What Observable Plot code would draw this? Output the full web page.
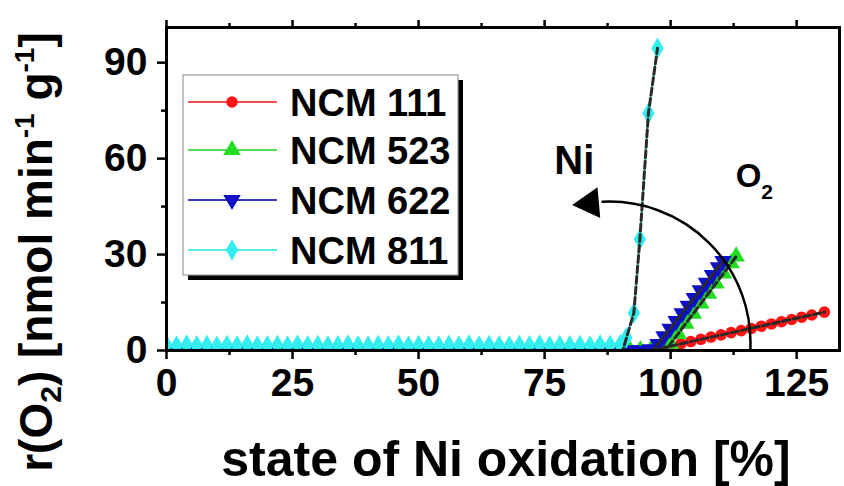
<!DOCTYPE html>
<html><head><meta charset="utf-8">
<script src="https://cdn.jsdelivr.net/npm/d3@7"></script>
<script src="https://cdn.jsdelivr.net/npm/@observablehq/plot@0.6"></script>
<style>
html,body{margin:0;padding:0;background:#fff}
</style></head><body><div id="chart"></div>
<script>
// ---------- data ----------
const seriesNames = ["NCM 111", "NCM 523", "NCM 622", "NCM 811"];
const seriesColors = ["#ff1414", "#22dd22", "#1010c8", "#33eeee"];
const legendLineColors = ["#f05050", "#55dd55", "#3838c0", "#55eeee"];
const seriesSymbols = ["circle", "triangle", "triangle", "diamond"];
const seriesRotate = [0, 0, 180, 0];

const xTicks = [0, 25, 50, 75, 100, 125];
const xMinorTicks = [12.5, 37.5, 62.5, 87.5, 112.5];
const yTicks = [0, 30, 60, 90];
const yMinorTicks = [15, 45, 75];

const baseX = [0,2,4,6,8,10,12,14,16,18,20,22,24,26,28,30,32,34,36,38,40,42,44,46,48,50,52,54,56,58,60,62,64,66,68,70,72,74,76,78,80,82,84,86,88,90];
const baseY111 = [0.1,0,0.1,0,0.1,0,0.1,0,0.1,0,0.1,0,0.1,0,0.1,0,0.1,0,0.1,0,0.1,0,0.1,0,0.1,0,0.1,0,0.1,0,0.1,0,0.1,0,0.1,0,0.1,0,0.1,0,0.1,0,0.1,0,0.1,0];
const baseY523 = [0,0.1,0,0.1,0,0.1,0,0.1,0,0.1,0,0.1,0,0.1,0,0.1,0,0.1,0,0.1,0,0.1,0,0.1,0,0.1,0,0.1,0,0.1,0,0.1,0,0.1,0,0.1,0,0.1,0,0.1,0,0.1,0,0.1,0,0.1];
const baseY622 = [0.1,0,0.1,0,0.1,0,0.1,0,0.1,0,0.1,0,0.1,0,0.1,0,0.1,0,0.1,0,0.1,0,0.1,0,0.1,0,0.1,0,0.1,0,0.1,0,0.1,0,0.1,0,0.1,0,0.1,0,0.1,0,0.1,0,0.1,0];
const baseY811 = [1.6,1.4,1.7,1.5,1.6,1.3,1.6,1.5,1.7,1.4,1.5,1.6,1.4,1.7,1.5,1.6,1.4,1.5,1.7,1.5,1.4,1.6,1.5,1.7,1.4,1.6,1.5,1.4,1.6,1.5,1.7,1.4,1.6,1.5,1.4,1.6,1.5,1.7,1.4,1.6,1.5,1.6,1.4,1.7,1.6,1.8];

const x111 = [...baseX, 92, 94, 96, 98, 100, 102, 104, 106, 108, 110, 112, 114, 116, 118, 120, 122, 124, 126, 128, 130.5];
const y111 = [...baseY111, 0.1, 0, 0.1, 0.7, 1.4, 2.1, 2.8, 3.5, 4.2, 4.9, 5.6, 6.2, 6.9, 7.6, 8.3, 9.0, 9.7, 10.4, 11.1, 12.0];

const x523 = [...baseX, 92, 94, 96, 98, 100, 101.5, 103, 104.5, 106, 107.5, 109, 110.5, 112, 113];
const y523 = [...baseY523, 0, 0.1, 0, 0.2, 2.1, 5.2, 8.4, 11.5, 14.7, 17.8, 21.0, 24.1, 27.3, 29.4];

const x622 = [...baseX, 92, 94, 96, 97.5, 98.7, 99.9, 101.1, 102.3, 103.5, 104.7, 105.9, 107.1, 108.3, 109.5, 110.4];
const y622 = [...baseY622, 0.1, 0, 0.4, 2.0, 4.4, 6.8, 9.2, 11.6, 14.0, 16.4, 18.8, 21.2, 23.6, 26.0, 28.0];

const x811 = [...baseX, 91.2, 92.7, 93.9, 95.6, 97.4];
const y811 = [...baseY811, 4.0, 11.7, 34.8, 74.2, 94.5];

// dashed fit lines
const fitX111 = [0, 96, 130.5], fitY111 = [0, 0, 12.0];
const fitX523 = [0, 99, 113], fitY523 = [0, 0, 29.4];
const fitX622 = [0, 96.5, 110.4], fitY622 = [0, 0, 28.0];
const fitX811 = [0, 90.5, 92.7, 93.9, 95.6, 97.4], fitY811 = [0, 0, 11.7, 34.8, 74.2, 94.5];

// annotation (arrow from O2 region to Ni region)
const arrowStart = {x: 115.8, y: 0};
const arrowEnd = {x: 86.5, y: 46.5};
const arrowHead = {x: 84.0, y: 46.0};
const niLabel = {x: 81, y: 55, text: "Ni"};
const o2Label = {x: 113, y: 51};

// ---------- build tables ----------
const seriesX = [x111, x523, x622, x811];
const seriesY = [y111, y523, y622, y811];
const fitXs = [fitX111, fitX523, fitX622, fitX811];
const fitYs = [fitY111, fitY523, fitY622, fitY811];
const rows = seriesNames.map((s, i) => seriesX[i].map((x, j) => ({series: s, x, y: seriesY[i][j]})));
const fits = seriesNames.map((s, i) => fitXs[i].map((x, j) => ({series: s, x, y: fitYs[i][j]}))).flat();

const FONT = "Liberation Sans, Arial, Helvetica, sans-serif";
const symR = {circle: 5.8, triangle: 6.5, diamond: 6.5};

const marks = [];
rows.forEach((data, i) => {
  marks.push(Plot.line(data, {x: "x", y: "y", stroke: seriesColors[i], strokeWidth: 2, clip: true}));
  marks.push(Plot.dot(data, {x: "x", y: "y", symbol: seriesSymbols[i], r: symR[seriesSymbols[i]],
    fill: seriesColors[i], stroke: "none", rotate: seriesRotate[i], clip: true}));
});
marks.push(Plot.line(fits, {x: "x", y: "y", z: "series", stroke: "#2a2a2a", strokeWidth: 3, strokeDasharray: "7,3.5", clip: true}));
marks.push(Plot.arrow([0], {x1: arrowStart.x, y1: arrowStart.y, x2: arrowEnd.x, y2: arrowEnd.y, bend: -48,
  headLength: 0, stroke: "black", strokeWidth: 2.5}));
marks.push(Plot.dot([arrowHead], {x: "x", y: "y", symbol: "triangle", r: 11.5, rotate: -95, fill: "black", stroke: "none"}));

marks.push(Plot.axisX({ticks: xTicks, tickSize: 9, tickPadding: 9, fontSize: 39, tickFormat: d => String(d), strokeWidth: 2.5, label: null}));
marks.push(Plot.axisX({ticks: xMinorTicks, tickSize: 5, tickFormat: () => "", strokeWidth: 2.5, label: null}));
marks.push(Plot.axisX({anchor: "top", ticks: xTicks, tickSize: 8, tickFormat: () => "", strokeWidth: 2.5, label: null}));
marks.push(Plot.axisX({anchor: "top", ticks: xMinorTicks, tickSize: 5, tickFormat: () => "", strokeWidth: 2.5, label: null}));
marks.push(Plot.axisY({ticks: yTicks, tickSize: 9, tickPadding: 10, fontSize: 39, tickFormat: d => String(d), strokeWidth: 2.5, label: null}));
marks.push(Plot.axisY({ticks: yMinorTicks, tickSize: 5, tickFormat: () => "", strokeWidth: 2.5, label: null}));
marks.push(Plot.frame({stroke: "black", strokeWidth: 3}));

const plot = Plot.plot({
  width: 844, height: 486,
  marginLeft: 166, marginRight: 5, marginTop: 27, marginBottom: 136,
  x: {domain: [0, 133.5]},
  y: {domain: [0, 101]},
  style: {fontFamily: FONT, fontWeight: "bold", background: "white", color: "black", overflow: "visible"},
  marks
});
document.getElementById("chart").appendChild(plot);

// ---------- post: titles, legend, annotations ----------
const svg = d3.select(plot);
svg.selectAll("text").filter(function () { return this.textContent === ""; }).remove();
const sx = plot.scale("x"), sy = plot.scale("y");

function addText(sel) {
  return sel.append("text").attr("font-weight", "bold").attr("font-family", FONT).attr("fill", "black");
}

// y title
const yt = addText(svg).attr("transform", "translate(52,252) rotate(-90)").attr("text-anchor", "middle").attr("font-size", 46);
yt.append("tspan").text("r(O");
yt.append("tspan").attr("font-size", 30).attr("dy", 9).text("2");
yt.append("tspan").attr("dy", -9).text(") [nmol min");
yt.append("tspan").attr("font-size", 28).attr("dy", -18).text("-1");
yt.append("tspan").attr("dy", 18).text(" g");
yt.append("tspan").attr("font-size", 28).attr("dy", -18).text("-1");
yt.append("tspan").attr("dy", 18).text("]");

// x title
addText(svg).attr("x", 506).attr("y", 476).attr("text-anchor", "middle").attr("font-size", 50)
  .text("state of Ni oxidation [%]");

// annotations
addText(svg).attr("x", sx.apply(niLabel.x)).attr("y", sy.apply(niLabel.y)).attr("text-anchor", "middle")
  .attr("font-size", 40).text(niLabel.text);
const o2 = addText(svg).attr("x", sx.apply(o2Label.x)).attr("y", sy.apply(o2Label.y)).attr("text-anchor", "start").attr("font-size", 33);
o2.append("tspan").text("O");
o2.append("tspan").attr("font-size", 21).attr("dy", 12).text("2");

// legend
const lg = svg.append("g").attr("transform", "translate(183,75)");
lg.append("rect").attr("x", 5).attr("y", 5).attr("width", 275).attr("height", 200).attr("fill", "black");
lg.append("rect").attr("x", 0).attr("y", 0).attr("width", 275).attr("height", 200).attr("fill", "white").attr("stroke", "#999").attr("stroke-width", 1.2);
const rowY = [27, 75, 125, 175];
const symMap = {circle: d3.symbolCircle, triangle: d3.symbolTriangle, diamond: d3.symbolDiamond};
seriesNames.forEach((name, i) => {
  const g = lg.append("g").attr("transform", `translate(0,${rowY[i]})`);
  g.append("line").attr("x1", 5).attr("x2", 94).attr("stroke", legendLineColors[i]).attr("stroke-width", 2.2);
  const r = seriesSymbols[i] === "circle" ? 5.8 : 6.5;
  g.append("path").attr("d", d3.symbol(symMap[seriesSymbols[i]], Math.PI * r * r)())
    .attr("transform", `translate(49,0) rotate(${seriesRotate[i]})`).attr("fill", seriesColors[i]);
  addText(g).attr("x", 107).attr("dy", "0.36em").attr("text-anchor", "start").attr("font-size", 38).text(name);
});
</script></body></html>
